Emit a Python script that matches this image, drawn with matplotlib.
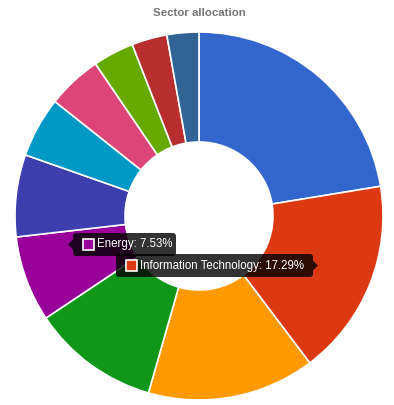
import matplotlib
matplotlib.use("Agg")
import matplotlib.pyplot as plt
from matplotlib.patches import FancyBboxPatch, Polygon, Rectangle

plt.rcParams['font.family'] = ['Liberation Sans', 'DejaVu Sans']

W, H = 394, 405

# sector shares (%), clockwise from 12 o'clock
sectors = ["Financials", "Information Technology", "Health Care", "Industrials",
           "Energy", "Consumer Discretionary", "Consumer Staples", "Materials",
           "Utilities", "Real Estate", "Communication Services"]
shares = [22.4, 17.29, 14.7, 11.2, 7.53, 7.2, 5.3, 4.8, 3.6, 3.1, 2.8]
colors = ["#3366cc", "#dc3912", "#ff9900", "#109618", "#990099", "#3b3eac",
          "#0099c6", "#dd4477", "#66aa00", "#b82e2e", "#316395"]

fig = plt.figure(figsize=(W / 100, H / 100), dpi=100)
ax = fig.add_axes([0, 0, 1, 1])
ax.set_xlim(0, W); ax.set_ylim(0, H)
ax.set_aspect("equal"); ax.set_axis_off()

cx, cy, r_out, r_in = 199, H - 216, 184, 74
ax.pie(shares, colors=colors, startangle=90, counterclock=False,
       center=(cx, cy), radius=r_out, frame=True,
       wedgeprops=dict(width=r_out - r_in, edgecolor="white", linewidth=1.2))
ax.set_xlim(0, W); ax.set_ylim(0, H); ax.set_axis_off()

ax.text(199, H - 13, "Sector allocation", ha="center", va="center",
        fontsize=8.2, fontweight="bold", color="#757575")


def tooltip(label, color, x0, x1, ytop, ybot, arrow):
    # box in image coords (y down) -> flip
    y0, y1 = H - ybot, H - ytop
    box = FancyBboxPatch((x0, y0), x1 - x0, y1 - y0,
                         boxstyle="round,pad=0,rounding_size=3",
                         fc="black", ec="none", alpha=0.8, zorder=5)
    ax.add_patch(box)
    ym = (y0 + y1) / 2
    if arrow == "left":
        tri = [(x0, ym + 5), (x0 - 5, ym), (x0, ym - 5)]
    else:
        tri = [(x1, ym + 5), (x1 + 5, ym), (x1, ym - 5)]
    ax.add_patch(Polygon(tri, closed=True, fc="black", ec="none", alpha=0.8, zorder=5))
    ax.add_patch(Rectangle((x0 + 10, ym - 5.5), 11, 11, fc=color, ec="white",
                           lw=1.2, zorder=6))
    ax.text(x0 + 24, ym, label, ha="left", va="center", color="white",
            fontsize=8.3, zorder=7)


idx_e = sectors.index("Energy")
idx_it = sectors.index("Information Technology")
tooltip(f"{sectors[idx_e]}: {shares[idx_e]:.2f}%", colors[idx_e], 73, 176, 233, 256, "left")
tooltip(f"{sectors[idx_it]}: {shares[idx_it]:.2f}%", colors[idx_it], 116, 313, 254, 277, "right")

fig.savefig("out.png", dpi=100, facecolor="white")
